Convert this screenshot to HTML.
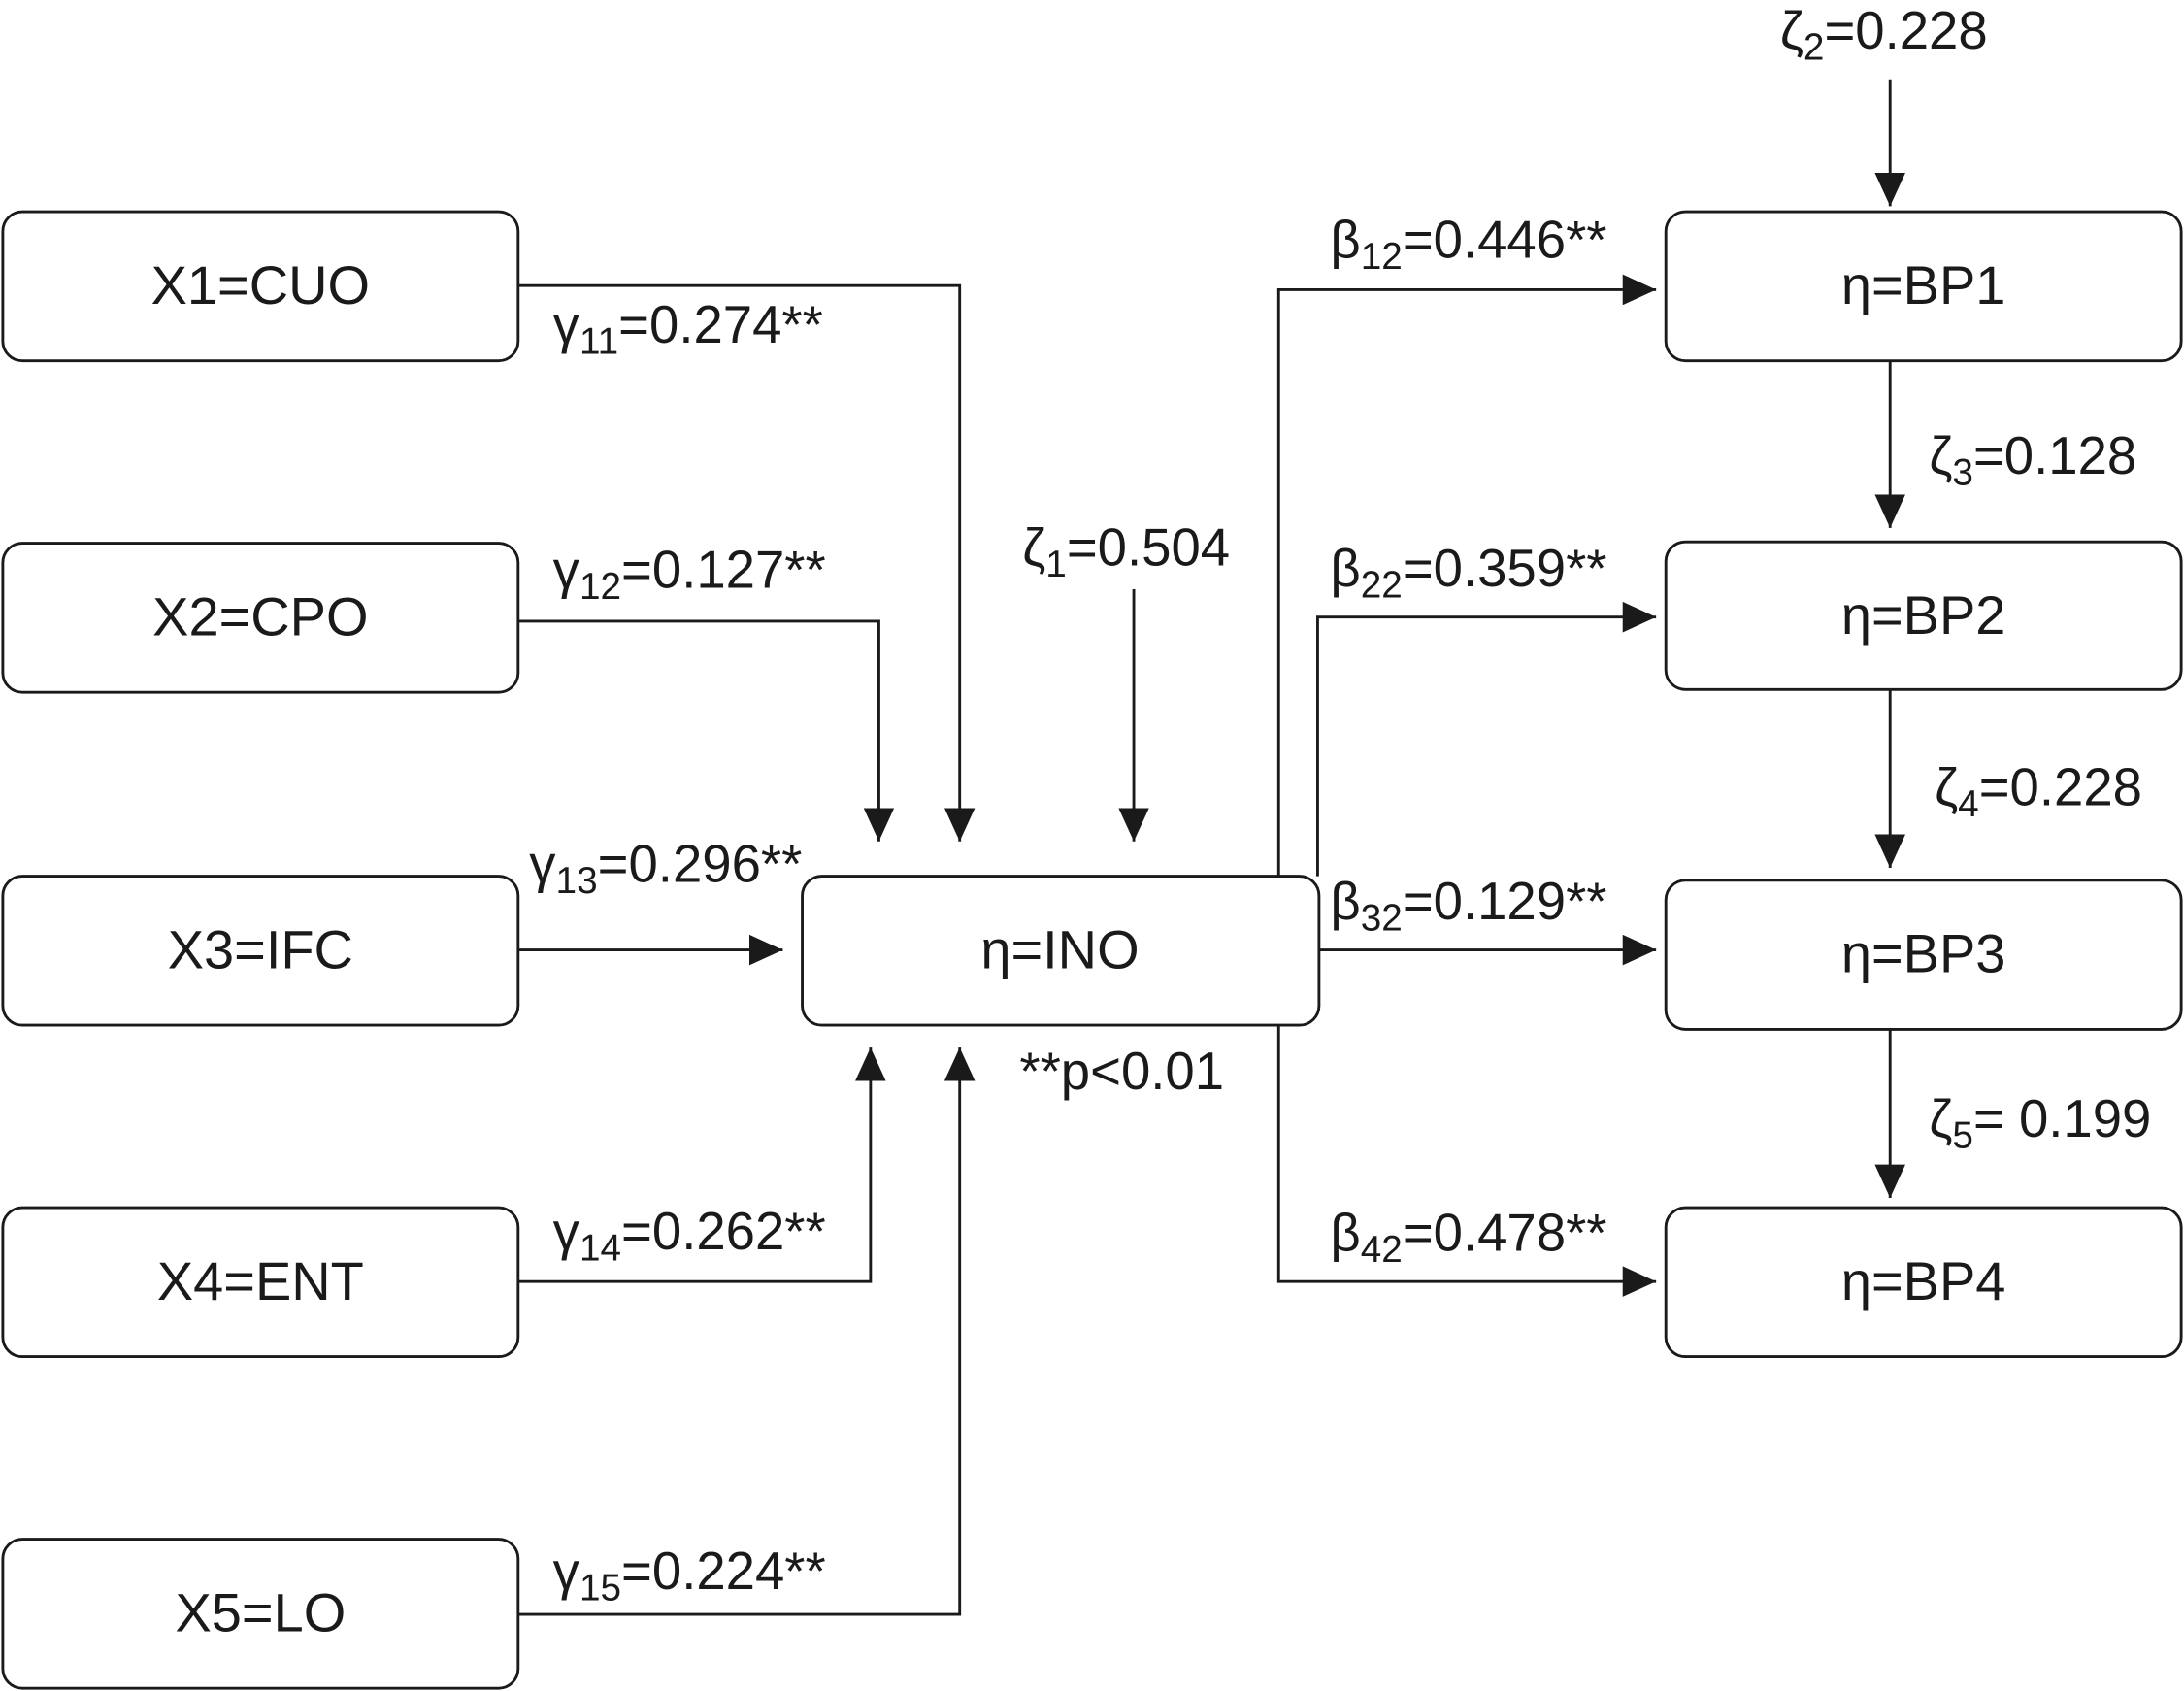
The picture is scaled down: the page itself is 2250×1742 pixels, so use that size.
<!DOCTYPE html>
<html><head><meta charset="utf-8"><style>
html,body{margin:0;padding:0;background:#fff}
svg{display:block}
text{font-family:"Liberation Sans",Arial,sans-serif;fill:#1a1a1a}
</style></head><body>
<svg width="2250" height="1742" viewBox="0 0 1568 1214" xmlns="http://www.w3.org/2000/svg">
<defs><marker id="a" markerWidth="24" markerHeight="22" refX="24" refY="11" orient="auto" markerUnits="userSpaceOnUse"><path d="M0,0 L24,11 L0,22 Z" fill="#1a1a1a"/></marker></defs>
<g fill="none" stroke="#1a1a1a" stroke-width="2">
<rect x="2" y="152" width="370" height="107" rx="14"/>
<rect x="2" y="390" width="370" height="107" rx="14"/>
<rect x="2" y="629" width="370" height="107" rx="14"/>
<rect x="2" y="867" width="370" height="107" rx="14"/>
<rect x="2" y="1105" width="370" height="107" rx="14"/>
<rect x="576" y="629" width="371" height="107" rx="14"/>
<rect x="1196" y="152" width="370" height="107" rx="14"/>
<rect x="1196" y="389" width="370" height="106" rx="14"/>
<rect x="1196" y="632" width="370" height="107" rx="14"/>
<rect x="1196" y="867" width="370" height="107" rx="14"/>
<polyline points="372,205 689,205 689,604" marker-end="url(#a)"/>
<polyline points="372,446 631,446 631,604" marker-end="url(#a)"/>
<line x1="814" y1="423" x2="814" y2="604" marker-end="url(#a)"/>
<line x1="372" y1="682" x2="562" y2="682" marker-end="url(#a)"/>
<polyline points="372,920 625,920 625,752" marker-end="url(#a)"/>
<polyline points="372,1159 689,1159 689,752" marker-end="url(#a)"/>
<polyline points="918,629 918,208 1189,208" marker-end="url(#a)"/>
<polyline points="946,629 946,443 1189,443" marker-end="url(#a)"/>
<line x1="947" y1="682" x2="1189" y2="682" marker-end="url(#a)"/>
<polyline points="918,736 918,920 1189,920" marker-end="url(#a)"/>
<line x1="1357" y1="57" x2="1357" y2="148" marker-end="url(#a)"/>
<line x1="1357" y1="259" x2="1357" y2="379" marker-end="url(#a)"/>
<line x1="1357" y1="495" x2="1357" y2="623" marker-end="url(#a)"/>
<line x1="1357" y1="739" x2="1357" y2="860" marker-end="url(#a)"/>
</g>
<g font-size="39" text-anchor="middle">
<text x="187" y="218">X1=CUO</text>
<text x="187" y="456">X2=CPO</text>
<text x="187" y="695">X3=IFC</text>
<text x="187" y="933">X4=ENT</text>
<text x="187" y="1171">X5=LO</text>
<text x="761" y="695">η=INO</text>
<text x="1381" y="218">η=BP1</text>
<text x="1381" y="455">η=BP2</text>
<text x="1381" y="698">η=BP3</text>
<text x="1381" y="933">η=BP4</text>
</g>
<g font-size="38">
<text x="397" y="246">γ<tspan font-size="27" dy="8">11</tspan><tspan dy="-8">=0.274**</tspan></text>
<text x="397" y="422">γ<tspan font-size="27" dy="8">12</tspan><tspan dy="-8">=0.127**</tspan></text>
<text x="380" y="633">γ<tspan font-size="27" dy="8">13</tspan><tspan dy="-8">=0.296**</tspan></text>
<text x="397" y="897">γ<tspan font-size="27" dy="8">14</tspan><tspan dy="-8">=0.262**</tspan></text>
<text x="397" y="1141">γ<tspan font-size="27" dy="8">15</tspan><tspan dy="-8">=0.224**</tspan></text>
<text x="734" y="406">ζ<tspan font-size="27" dy="8">1</tspan><tspan dy="-8">=0.504</tspan></text>
<text x="732" y="782">**p&lt;0.01</text>
<text x="955" y="185">β<tspan font-size="27" dy="8">12</tspan><tspan dy="-8">=0.446**</tspan></text>
<text x="955" y="421">β<tspan font-size="27" dy="8">22</tspan><tspan dy="-8">=0.359**</tspan></text>
<text x="955" y="660">β<tspan font-size="27" dy="8">32</tspan><tspan dy="-8">=0.129**</tspan></text>
<text x="955" y="898">β<tspan font-size="27" dy="8">42</tspan><tspan dy="-8">=0.478**</tspan></text>
<text x="1278" y="35">ζ<tspan font-size="27" dy="8">2</tspan><tspan dy="-8">=0.228</tspan></text>
<text x="1385" y="340">ζ<tspan font-size="27" dy="8">3</tspan><tspan dy="-8">=0.128</tspan></text>
<text x="1389" y="578">ζ<tspan font-size="27" dy="8">4</tspan><tspan dy="-8">=0.228</tspan></text>
<text x="1385" y="816">ζ<tspan font-size="27" dy="8">5</tspan><tspan dy="-8">= 0.199</tspan></text>
</g>
</svg>
</body></html>
